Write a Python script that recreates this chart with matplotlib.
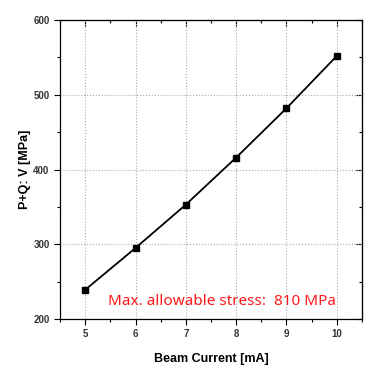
import matplotlib
matplotlib.use("Agg")
import matplotlib.pyplot as plt
from matplotlib.ticker import MultipleLocator

beam_current = [5, 6, 7, 8, 9, 10]
stress = [239, 295, 353, 416, 482, 552]
xlabel = "Beam Current [mA]"
ylabel = "P+Q: V [MPa]"
note = "Max. allowable stress:  810 MPa"

plt.rcParams['font.family'] = ['Liberation Sans', 'DejaVu Sans']
fig = plt.figure(figsize=(3.72, 3.68), dpi=100)
ax = fig.add_axes([60/372, 1-319/368, 302/372, 299/368])
ax.plot(beam_current, stress, color='black', lw=1.3, marker='s', ms=5)
ax.set_xlim(4.5, 10.5)
ax.set_ylim(200, 600)
ax.xaxis.set_major_locator(MultipleLocator(1))
ax.xaxis.set_minor_locator(MultipleLocator(0.5))
ax.yaxis.set_major_locator(MultipleLocator(100))
ax.yaxis.set_minor_locator(MultipleLocator(50))
ax.grid(True, which='major', color='#aaaaaa', linestyle=':', lw=0.8)
ax.tick_params(which='both', direction='out', labelsize=7, width=0.8)
ax.tick_params(which='major', length=4)
ax.tick_params(which='minor', length=2.5)
# inward ticks on top and right
ax2 = ax.secondary_xaxis('top')
ax2.xaxis.set_major_locator(MultipleLocator(1))
ax2.xaxis.set_minor_locator(MultipleLocator(0.5))
ax2.tick_params(which='both', direction='in', labeltop=False, width=0.8)
ax2.tick_params(which='major', length=4)
ax2.tick_params(which='minor', length=2.5)
ax3 = ax.secondary_yaxis('right')
ax3.yaxis.set_major_locator(MultipleLocator(100))
ax3.yaxis.set_minor_locator(MultipleLocator(50))
ax3.tick_params(which='both', direction='in', labelright=False, width=0.8)
ax3.tick_params(which='major', length=4)
ax3.tick_params(which='minor', length=2.5)
for lab in ax.get_xticklabels() + ax.get_yticklabels():
    lab.set_fontweight('bold')
    lab.set_color('#333333')
for s in ax.spines.values():
    s.set_linewidth(0.9)
ax.set_xlabel(xlabel, fontsize=9, fontweight='bold', labelpad=10)
ax.set_ylabel(ylabel, fontsize=9, fontweight='bold', labelpad=2)
ax.text(0.535, 0.057, note, transform=ax.transAxes, color='#ff1a1a', fontsize=11,
        ha='center', va='center', family=['Noto Sans', 'DejaVu Sans'], fontweight='medium')
fig.savefig('out.png', dpi=100)
